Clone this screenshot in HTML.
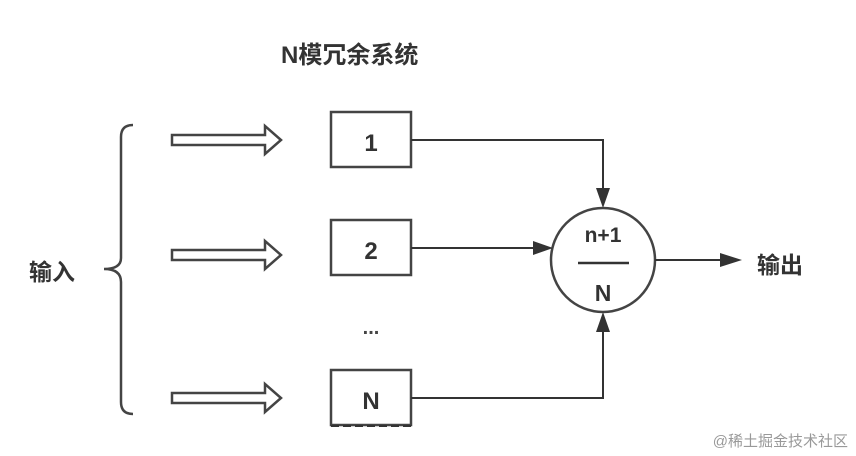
<!DOCTYPE html>
<html><head><meta charset="utf-8"><style>
body{margin:0;background:#fff}
svg{display:block}
text{font-family:"Liberation Sans","Noto Sans CJK SC",sans-serif;font-weight:bold;fill:#333}
</style></head><body>
<svg width="856" height="456" viewBox="0 0 856 456">
<text x="281" y="63" font-size="24">N模冗余系统</text>
<text x="29" y="280" font-size="23">输入</text>
<path d="M133,125 Q121,125 121,137 L121,258 Q121,269 104,269 Q121,269 121,282 L121,402 Q121,414 133,414" fill="none" stroke="#444" stroke-width="2.5"/>
<g fill="#fff" stroke="#444" stroke-width="2.5">
<path d="M172,135 L265,135 L265,126 L281,140 L265,154 L265,145 L172,145z"/>
<path d="M172,250 L265,250 L265,241 L281,255 L265,269 L265,260 L172,260z"/>
<path d="M172,393 L265,393 L265,384 L281,398 L265,412 L265,403 L172,403z"/>
<rect x="331" y="112" width="80" height="55"/>
<rect x="331" y="220" width="80" height="55"/>
<rect x="331" y="370" width="80" height="55"/>
<circle cx="603" cy="260" r="52"/>
</g>
<path d="M331,426 L411,426" stroke="#333" stroke-width="2" stroke-dasharray="8,4"/>
<text x="371" y="151" font-size="24" text-anchor="middle">1</text>
<text x="371" y="259" font-size="24" text-anchor="middle">2</text>
<text x="371" y="334" font-size="20" text-anchor="middle" style="fill:#444">...</text>
<text x="371" y="409" font-size="24" text-anchor="middle">N</text>
<g stroke="#333" stroke-width="2" fill="none">
<path d="M411,140 L603,140 L603,190"/>
<path d="M411,248 L535,248"/>
<path d="M411,398 L603,398 L603,330"/>
<path d="M655,260 L723,260"/>
<path d="M578,263 L629,263" stroke-width="2.5"/>
</g>
<g fill="#333">
<path d="M596,188 L610,188 L603,208z"/>
<path d="M533,241 L533,255 L553,248z"/>
<path d="M596,332 L610,332 L603,312z"/>
<path d="M720,253 L720,267 L742,260z"/>
</g>
<text x="603" y="242" font-size="21" text-anchor="middle">n+1</text>
<text x="603" y="301" font-size="23" text-anchor="middle">N</text>
<text x="757" y="273" font-size="23">输出</text>
<text x="848" y="446" font-size="15" text-anchor="end" style="font-weight:normal;fill:#999">@稀土掘金技术社区</text>
</svg>
</body></html>
